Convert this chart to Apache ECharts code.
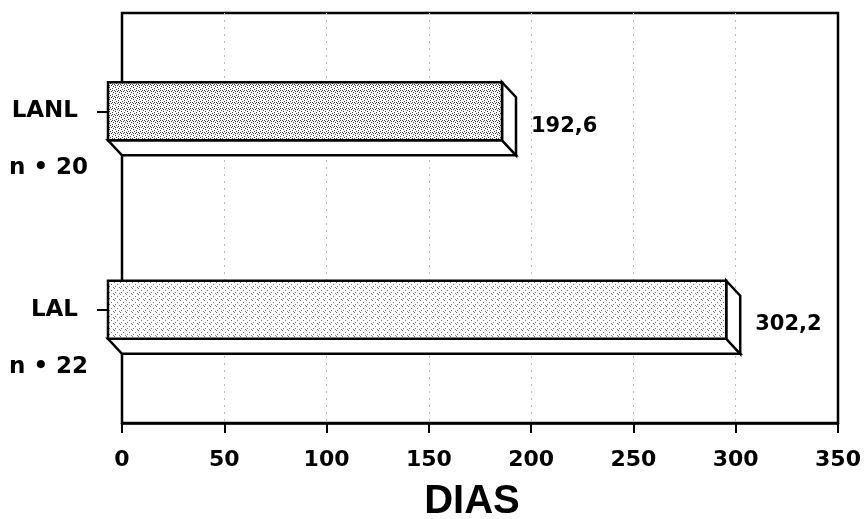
<!DOCTYPE html>
<html>
<head>
<meta charset="utf-8">
<script src="https://cdn.jsdelivr.net/npm/echarts@6/dist/echarts.min.js"></script>
<style>
  html, body { margin: 0; padding: 0; background: #fff; }
  #chart { width: 868px; height: 519px; }
</style>
</head>
<body>
<div id="chart"></div>
<script>
// categories from bottom to top
var categories = ['LAL', 'LANL'];
var counts = ['n • 22', 'n • 20'];
var values = [302.2, 192.6];
var xTicks = [0, 50, 100, 150, 200, 250, 300, 350];

var FONT = 'DejaVu Sans';

// stippled fill for the front faces
function stipple(dots, color) {
    var c = document.createElement('canvas');
    c.width = 6; c.height = 6;
    var ctx = c.getContext('2d');
    ctx.fillStyle = '#fff';
    ctx.fillRect(0, 0, 6, 6);
    ctx.fillStyle = color;
    dots.forEach(function (d) { ctx.fillRect(d[0], d[1], 1, 1); });
    return { image: c, repeat: 'repeat' };
}
var fills = [
    stipple([[0, 0], [3, 2], [1, 4], [5, 5]], '#777'),
    stipple([[0, 0], [3, 1], [1, 3], [4, 4], [2, 5], [5, 2], [4, 0], [1, 1]], '#444')
];

var chartDom = document.getElementById('chart');
var myChart = echarts.init(chartDom);

var DX = 14, DY = 15, H = 58;

function renderItem(params, api) {
    var ci = api.value(0);
    var v = api.value(1);
    var p0 = api.coord([0, ci]);
    var pv = api.coord([v, ci]);
    var x0 = p0[0] - DX, x1 = pv[0] - DX;
    var yt = p0[1] - H / 2, yb = p0[1] + H / 2;
    var line = { stroke: '#000', lineWidth: 2.5, lineJoin: 'miter' };
    return {
        type: 'group',
        children: [
            {
                type: 'polygon',
                shape: { points: [[x0, yb], [x1, yb], [x1 + DX, yb + DY], [x0 + DX, yb + DY]] },
                style: Object.assign({ fill: '#fff' }, line)
            },
            {
                type: 'polygon',
                shape: { points: [[x1, yt], [x1 + DX, yt + DY], [x1 + DX, yb + DY], [x1, yb]] },
                style: Object.assign({ fill: '#fff' }, line)
            },
            {
                type: 'rect',
                shape: { x: x0, y: yt, width: x1 - x0, height: H },
                style: Object.assign({ fill: fills[params.dataIndex] }, line)
            },
            {
                type: 'text',
                x: pv[0] + 15,
                y: p0[1] + DY,
                style: {
                    text: v.toFixed(1).replace('.', ','),
                    fill: '#000',
                    font: 'bold 21px "' + FONT + '"',
                    textAlign: 'left',
                    textVerticalAlign: 'middle'
                }
            }
        ]
    };
}

var option = {
    backgroundColor: '#fff',
    animation: false,
    grid: [
        { left: 122, right: 30, top: 13, bottom: 96, show: true, borderColor: '#000', borderWidth: 2.5, backgroundColor: 'transparent', outerBoundsMode: 'none', containLabel: false },
        { left: 122, right: 30, top: 12, height: 397, outerBoundsMode: 'none', containLabel: false },
        { left: 122, right: 30, top: 69, height: 397, outerBoundsMode: 'none', containLabel: false }
    ],
    xAxis: [
        {
            gridIndex: 0, type: 'value', min: 0, max: 350, interval: 50,
            name: 'DIAS', nameLocation: 'middle', nameGap: 59,
            nameTextStyle: { fontFamily: 'Liberation Sans', fontWeight: 'bold', fontSize: 40, color: '#000', padding: [0, 16, 0, 0] },
            axisLine: { show: true, lineStyle: { color: '#000', width: 2.5 } },
            axisTick: { show: true, length: 10, lineStyle: { color: '#000', width: 2 } },
            axisLabel: { color: '#000', fontFamily: FONT, fontWeight: 'bold', fontSize: 22, margin: 26,
                formatter: function (v) { return xTicks.indexOf(v) >= 0 ? String(v) : ''; } },
            splitLine: { show: true, showMinLine: false, showMaxLine: false, lineStyle: { color: '#bbb', width: 1, type: [2, 5] } }
        },
        { gridIndex: 1, type: 'value', min: 0, max: 350, show: false },
        { gridIndex: 2, type: 'value', min: 0, max: 350, show: false }
    ],
    yAxis: [
        { gridIndex: 0, type: 'value', show: false, splitLine: { show: false } },
        {
            gridIndex: 1, type: 'category', data: categories,
            axisLine: { show: false },
            axisTick: { show: true, alignWithLabel: true, length: 25, lineStyle: { color: '#000', width: 2 } },
            axisLabel: { color: '#000', fontFamily: FONT, fontWeight: 'bold', fontSize: 23, margin: 44 }
        },
        {
            gridIndex: 2, type: 'category', data: counts,
            axisLine: { show: false },
            axisTick: { show: false },
            axisLabel: { color: '#000', fontFamily: FONT, fontWeight: 'bold', fontSize: 23, margin: 113, align: 'left' }
        }
    ],
    series: [{
        type: 'custom',
        xAxisIndex: 1,
        yAxisIndex: 1,
        renderItem: renderItem,
        encode: { x: 1, y: 0 },
        data: values.map(function (v, i) { return [i, v]; })
    }]
};

option && myChart && myChart.setOption(option);
</script>
</body>
</html>
